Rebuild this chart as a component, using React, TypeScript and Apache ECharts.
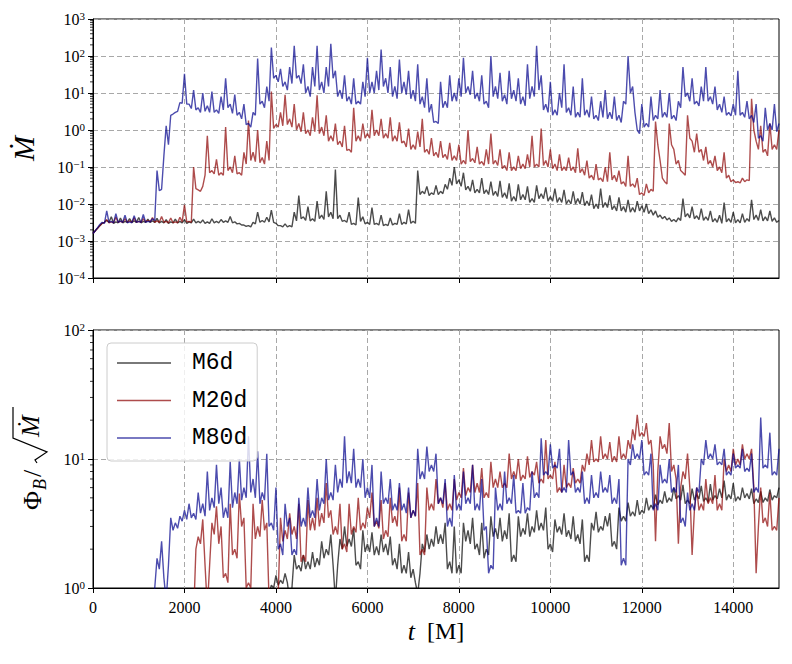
import React, { useEffect, useRef } from "react";
import * as echarts from "echarts";

// time sampling [M]: values are read at t = 0,100,...,15000 and at the midpoints t = 50,150,...,14950
const TIME_MAIN: number[] = Array.from({ length: 151 }, (_, i) => i * 100);
const TIME_MID: number[] = Array.from({ length: 150 }, (_, i) => i * 100 + 50);
const X_TICKS = [0, 2000, 4000, 6000, 8000, 10000, 12000, 14000];
const SERIES_NAMES = ["M6d", "M20d", "M80d"];

// ---------- Top panel: accretion rate Mdot ----------
const MDOT_M6D = [
  1.6e-3, 2.2e-3, 3.0e-3, 3.6e-3, 4.5e-3, 3.3e-3, 4.2e-3, 3.4e-3, 4.0e-3, 3.5e-3,
  4.3e-3, 3.4e-3, 3.9e-3, 3.5e-3, 4.1e-3, 3.4e-3, 3.8e-3, 3.3e-3, 3.9e-3, 3.4e-3,
  3.8e-3, 3.3e-3, 3.9e-3, 3.4e-3, 3.7e-3, 3.3e-3, 4.0e-3, 3.4e-3, 3.8e-3, 3.5e-3,
  4.6e-3, 3.3e-3, 3.0e-3, 2.7e-3, 2.6e-3, 3.2e-3, 6.0e-3, 3.6e-3, 4.4e-3, 6.8e-3,
  3.0e-3, 2.6e-3, 2.9e-3, 2.6e-3, 6.0e-3, 1.7e-2, 4.5e-3, 8.5e-3, 4.0e-3, 1.2e-2,
  5.0e-3, 2.2e-2, 6.0e-3, 8.5e-2, 5.0e-3, 3.6e-3, 6.0e-3, 3.0e-3, 1.5e-2, 4.5e-3,
  3.2e-3, 8.0e-3, 3.0e-3, 5.0e-3, 2.8e-3, 4.2e-3, 3.0e-3, 5.5e-3, 3.2e-3, 7.0e-3,
  3.4e-3, 8.0e-2, 2.2e-2, 3.0e-2, 2.0e-2, 3.2e-2, 2.2e-2, 3.4e-2, 5.0e-2, 1.0e-1,
  4.5e-2, 7.0e-2, 3.0e-2, 4.5e-2, 2.5e-2, 5.0e-2, 2.4e-2, 4.0e-2, 2.2e-2, 4.2e-2,
  2.0e-2, 3.6e-2, 1.6e-2, 3.4e-2, 1.8e-2, 3.0e-2, 1.4e-2, 3.2e-2, 1.9e-2, 2.8e-2,
  1.6e-2, 2.6e-2, 1.5e-2, 2.4e-2, 1.3e-2, 2.2e-2, 1.4e-2, 2.1e-2, 1.2e-2, 1.8e-2,
  1.0e-2, 2.6e-2, 1.1e-2, 1.7e-2, 9.0e-3, 1.5e-2, 8.5e-3, 1.3e-2, 8.0e-3, 1.2e-2,
  9.0e-3, 1.0e-2, 7.0e-3, 6.5e-3, 5.0e-3, 4.6e-3, 4.2e-3, 3.8e-3, 4.2e-3, 1.4e-2,
  5.5e-3, 8.5e-3, 4.8e-3, 7.5e-3, 4.5e-3, 6.5e-3, 4.0e-3, 5.0e-3, 1.1e-2, 4.0e-3,
  6.0e-3, 3.8e-3, 5.5e-3, 4.0e-3, 1.3e-2, 5.0e-3, 7.0e-3, 4.5e-3, 6.5e-3, 4.2e-3,
  3.6e-3,
];
const MDOT_M6D_MID = [
  1.9e-3, 2.6e-3, 3.2e-3, 3.2e-3, 3.0e-3, 3.1e-3, 3.1e-3, 3.2e-3, 3.2e-3, 3.2e-3,
  3.1e-3, 3.2e-3, 3.2e-3, 3.2e-3, 3.1e-3, 3.1e-3, 3.0e-3, 3.1e-3, 3.1e-3, 3.1e-3,
  3.0e-3, 3.1e-3, 3.1e-3, 3.1e-3, 3.0e-3, 3.0e-3, 3.1e-3, 3.1e-3, 3.2e-3, 3.2e-3,
  3.1e-3, 2.9e-3, 2.7e-3, 2.5e-3, 2.4e-3, 2.9e-3, 3.2e-3, 3.2e-3, 3.3e-3, 3.2e-3,
  2.6e-3, 2.4e-3, 2.4e-3, 2.4e-3, 3.5e-3, 4.0e-3, 3.6e-3, 3.5e-3, 3.4e-3, 4.0e-3,
  3.8e-3, 4.5e-3, 4.0e-3, 4.0e-3, 3.4e-3, 3.2e-3, 2.8e-3, 2.7e-3, 3.4e-3, 2.9e-3,
  2.8e-3, 2.8e-3, 2.7e-3, 2.6e-3, 2.6e-3, 2.7e-3, 2.8e-3, 2.8e-3, 2.9e-3, 3.0e-3,
  3.0e-3, 1.8e-2, 1.9e-2, 1.7e-2, 1.8e-2, 1.8e-2, 1.9e-2, 2.5e-2, 3.2e-2, 3.5e-2,
  3.0e-2, 2.4e-2, 2.2e-2, 2.0e-2, 2.0e-2, 1.9e-2, 1.8e-2, 1.7e-2, 1.6e-2, 1.5e-2,
  1.4e-2, 1.2e-2, 1.2e-2, 1.3e-2, 1.3e-2, 1.1e-2, 1.1e-2, 1.4e-2, 1.4e-2, 1.2e-2,
  1.2e-2, 1.1e-2, 1.1e-2, 1.0e-2, 1.0e-2, 1.0e-2, 1.0e-2, 9.0e-3, 9.0e-3, 7.5e-3,
  7.5e-3, 8.0e-3, 8.0e-3, 7.0e-3, 6.5e-3, 6.5e-3, 6.0e-3, 6.0e-3, 6.0e-3, 6.5e-3,
  6.0e-3, 5.5e-3, 5.0e-3, 4.4e-3, 4.0e-3, 3.7e-3, 3.4e-3, 3.3e-3, 3.6e-3, 4.5e-3,
  4.2e-3, 4.0e-3, 3.8e-3, 3.6e-3, 3.6e-3, 3.3e-3, 3.2e-3, 3.0e-3, 3.3e-3, 3.2e-3,
  3.1e-3, 3.1e-3, 3.2e-3, 3.4e-3, 3.8e-3, 3.6e-3, 3.5e-3, 3.5e-3, 3.4e-3, 3.2e-3,
];
const MDOT_M20D = [
  1.6e-3, 2.2e-3, 3.0e-3, 3.8e-3, 3.3e-3, 4.4e-3, 3.4e-3, 4.0e-3, 3.5e-3, 4.2e-3,
  3.4e-3, 4.0e-3, 3.6e-3, 4.3e-3, 3.5e-3, 4.6e-3, 3.4e-3, 4.2e-3, 3.3e-3, 4.4e-3,
  9.5e-3, 3.4e-3, 1.0e-1, 2.4e-2, 3.0e-2, 0.7, 8.0e-2, 0.16, 7.0e-2, 1.2,
  0.1, 0.2, 7.0e-2, 0.25, 1.8, 0.25, 1.0, 0.18, 0.5, 11,
  1.4, 3.0, 9.0, 2.0, 5.0, 1.5, 3.0, 1.0, 2.2, 8.7,
  1.2, 2.5, 0.7, 1.5, 0.5, 1.3, 0.3, 4.0, 0.7, 1.5,
  0.8, 3.5, 1.0, 2.0, 0.8, 2.2, 0.7, 1.6, 0.5, 1.1,
  0.4, 0.9, 2.0, 0.3, 0.6, 0.25, 0.5, 0.22, 0.45, 0.2,
  0.4, 0.15, 1.0, 0.17, 0.35, 0.14, 0.3, 0.8, 0.15, 0.3,
  0.11, 0.25, 0.1, 0.2, 0.12, 0.22, 0.7, 0.12, 1.1, 0.15,
  0.3, 0.12, 0.22, 0.1, 0.18, 0.1, 0.32, 0.09, 0.15, 0.06,
  0.12, 0.05, 0.1, 0.25, 0.06, 0.08, 0.04, 0.2, 0.035, 0.05,
  0.02, 0.035, 0.025, 1.7, 0.15, 0.04, 1.5, 0.3, 0.15, 0.07,
  2.5, 0.5, 0.8, 0.3, 0.35, 0.15, 0.2, 0.1, 0.25, 0.06,
  0.045, 0.04, 0.05, 0.045, 7.0, 0.5, 1.3, 0.3, 1.5, 0.4,
  1.0,
];
const MDOT_M20D_MID = [
  1.9e-3, 2.6e-3, 3.2e-3, 3.1e-3, 3.1e-3, 3.2e-3, 3.2e-3, 3.2e-3, 3.2e-3, 3.2e-3,
  3.2e-3, 3.3e-3, 3.3e-3, 3.2e-3, 3.2e-3, 3.2e-3, 3.1e-3, 3.1e-3, 3.1e-3, 3.3e-3,
  3.3e-3, 3.2e-3, 2.6e-2, 2.2e-2, 6.0e-2, 7.0e-2, 6.5e-2, 6.0e-2, 6.0e-2, 8.0e-2,
  7.0e-2, 6.5e-2, 6.0e-2, 0.12, 0.15, 0.14, 0.13, 0.12, 0.15, 1.1,
  1.2, 1.3, 1.4, 1.2, 1.0, 0.9, 0.8, 0.7, 0.9, 0.8,
  0.7, 0.5, 0.5, 0.4, 0.35, 0.28, 0.25, 0.5, 0.5, 0.6,
  0.6, 0.7, 0.7, 0.6, 0.6, 0.5, 0.5, 0.45, 0.35, 0.3,
  0.3, 0.35, 0.25, 0.22, 0.2, 0.18, 0.18, 0.16, 0.15, 0.15,
  0.12, 0.12, 0.14, 0.13, 0.12, 0.11, 0.12, 0.12, 0.11, 0.09,
  0.08, 0.08, 0.08, 0.09, 0.09, 0.1, 0.1, 0.1, 0.11, 0.1,
  0.09, 0.08, 0.08, 0.08, 0.08, 0.07, 0.07, 0.06, 0.05, 0.045,
  0.045, 0.04, 0.04, 0.045, 0.04, 0.035, 0.03, 0.03, 0.028, 0.018,
  0.017, 0.02, 0.022, 0.4, 0.05, 0.035, 0.4, 0.12, 0.08, 0.06,
  0.6, 0.25, 0.25, 0.15, 0.12, 0.1, 0.08, 0.07, 0.05, 0.04,
  0.038, 0.037, 0.04, 0.043, 1.0, 0.3, 0.25, 0.2, 0.3, 0.3,
];
const MDOT_M80D = [
  1.6e-3, 2.3e-3, 3.2e-3, 6.5e-3, 3.4e-3, 5.5e-3, 3.5e-3, 5.0e-3, 3.3e-3, 4.8e-3,
  3.4e-3, 5.2e-3, 3.4e-3, 4.0e-3, 8.0e-2, 2.5e-2, 1.3, 2.5, 3.0, 5.5,
  33, 5, 12, 4, 10, 4.5, 11, 3.5, 8, 25,
  5, 9, 3, 5, 1.5, 3, 85, 6, 15, 170,
  30, 45, 20, 50, 190, 30, 60, 15, 50, 190,
  20, 50, 215, 40, 12, 30, 8, 25, 6, 20,
  90, 20, 40, 150, 25, 50, 15, 80, 20, 40,
  12, 60, 8, 25, 5, 1.7, 20, 6, 30, 10,
  25, 90, 15, 40, 10, 30, 6, 100, 15, 35,
  9, 40, 12, 25, 8, 60, 15, 190, 30, 5,
  20, 3.5, 10, 60, 4, 15, 3, 25, 3.5, 8,
  2.5, 6, 12, 3, 8, 2.5, 6, 100, 15, 1.0,
  5, 1.5, 8, 2.5, 12, 3, 10, 2.5, 6, 50,
  10, 25, 6, 15, 50, 8, 15, 5, 8, 3,
  5, 40, 3, 6, 2.5, 5, 0.7, 4, 1.5, 5,
  1.5,
];
const MDOT_M80D_MID = [
  1.9e-3, 2.8e-3, 3.0e-3, 3.2e-3, 3.1e-3, 3.2e-3, 3.2e-3, 3.1e-3, 3.1e-3, 3.2e-3,
  3.2e-3, 3.2e-3, 3.3e-3, 3.6e-3, 2.3e-2, 0.2, 0.4, 2.7, 3.2, 5.3,
  5.0, 3.8, 3.5, 3.0, 3.2, 3.0, 3.0, 2.8, 3.5, 4.0,
  2.8, 2.5, 2.0, 1.4, 1.2, 2.5, 5, 4, 6, 25,
  20, 15, 12, 18, 25, 18, 10, 8, 15, 12,
  10, 15, 25, 8, 7, 6, 5, 5, 5, 8,
  10, 10, 12, 15, 10, 8, 7, 10, 9, 7,
  6, 5, 4, 3, 1.6, 1.5, 4, 4, 6, 6,
  8, 10, 9, 7, 6, 5, 4, 8, 7, 6,
  5, 7, 6, 5, 4.5, 7, 8, 12, 3.5, 3,
  2.5, 2.5, 4, 3, 2.5, 2.2, 2.2, 2.5, 2.2, 2.0,
  1.8, 2.2, 2.0, 2.0, 1.8, 1.6, 5, 10, 3, 0.8,
  1.2, 1.2, 1.8, 2.0, 2.2, 2.2, 2.0, 1.8, 4, 8,
  6, 5, 4.5, 6, 6, 5, 3.5, 3, 2.5, 2.4,
  2.5, 2.5, 2.2, 2.0, 1.6, 0.6, 0.5, 1.0, 1.0, 0.9,
];

// ---------- Bottom panel: Phi_B / sqrt(Mdot) ----------
const PHI_M6D = [
  null, null, null, null, null, null, null, null, null, null,
  null, null, null, null, null, null, null, null, null, null,
  null, null, null, null, null, null, null, null, null, null,
  null, null, null, null, null, null, null, null, 0.7, 1.05,
  1.25, 1.15, 1.3, 0.8, 1.8, 1.5, 1.8, 1.6, 1.9, 1.7,
  2.3, 2.0, 2.6, 0.8, 2.4, 3.0, 2.4, 2.9, 1.6, 2.8,
  2.2, 2.7, 2.1, 2.6, 2.2, 2.5, 1.7, 2.2, 1.5, 1.9,
  1.4, 0.9, 2.2, 2.6, 2.4, 3.0, 2.6, 3.2, 1.6, 3.0,
  1.5, 3.2, 2.8, 3.5, 2.2, 3.2, 2.0, 3.6, 2.9, 3.5,
  2.8, 3.8, 1.8, 3.6, 2.9, 3.8, 3.0, 4.0, 3.2, 4.2,
  2.2, 3.4, 3.0, 3.8, 2.8, 3.6, 2.6, 3.4, 1.8, 3.2,
  3.9, 3.0, 3.6, 3.8, 2.3, 4.2, 3.6, 4.6, 3.9, 4.8,
  4.0, 5.0, 4.4, 5.3, 4.8, 5.6, 5.0, 6.0, 5.2, 6.3,
  4.8, 5.9, 5.3, 6.2, 5.0, 6.4, 5.2, 5.9, 6.8, 5.3,
  6.5, 5.1, 6.0, 5.4, 5.9, 4.9, 5.6, 5.0, 5.8, 5.2,
  6.0,
];
const PHI_M6D_MID = [
  null, null, null, null, null, null, null, null, null, null,
  null, null, null, null, null, null, null, null, null, null,
  null, null, null, null, null, null, null, null, null, null,
  null, null, null, null, null, null, null, null, 0.9, 1.0,
  1.05, 1.08, 1.1, 1.0, 1.4, 1.35, 1.4, 1.4, 1.45, 1.5,
  1.7, 1.8, 1.5, 1.5, 2.0, 2.1, 2.1, 1.5, 1.4, 1.9,
  1.9, 1.8, 1.8, 1.9, 1.8, 1.5, 1.4, 1.3, 1.3, 1.2,
  1.1, 1.3, 1.9, 2.0, 2.1, 2.2, 2.2, 1.4, 1.3, 1.3,
  1.3, 2.3, 2.2, 2.0, 1.8, 1.7, 1.8, 2.5, 2.4, 2.3,
  2.4, 1.6, 1.6, 2.5, 2.6, 2.5, 2.7, 2.8, 2.8, 2.0,
  1.9, 2.7, 2.6, 2.5, 2.4, 2.3, 2.2, 1.6, 1.6, 2.8,
  2.7, 2.8, 3.0, 2.1, 2.0, 3.3, 3.3, 3.6, 3.6, 3.7,
  3.8, 4.0, 4.1, 4.4, 4.5, 4.6, 4.7, 4.9, 4.8, 4.5,
  4.5, 4.8, 4.9, 4.7, 4.6, 4.8, 4.9, 5.0, 4.8, 4.9,
  4.7, 4.8, 5.0, 4.9, 4.5, 4.6, 4.6, 4.7, 4.8, 5.0,
];
const PHI_M20D = [
  null, null, null, null, null, null, null, null, null, null,
  null, null, null, null, null, null, null, null, null, null,
  null, null, 0.6, 2.5, 3.4, 0.7, 3.2, 4.3, 3.0, 1.3,
  4.5, 2.0, 5.4, 3.5, 1.1, 4.5, 3.0, 4.8, 3.2, 0.9,
  0.6, 3.5, 2.8, 3.8, 3.0, 4.5, 1.8, 4.8, 3.5, 5.0,
  3.8, 6.5, 4.0, 3.0, 4.5, 2.2, 4.5, 3.0, 5.0, 3.2,
  4.2, 5.5, 3.3, 4.8, 2.8, 5.0, 3.6, 6.0, 2.6, 5.5,
  4.0, 6.5, 2.0, 6.0, 4.5, 7.0, 5.0, 6.5, 4.5, 7.0,
  5.5, 8.5, 6.0, 9.0, 6.5, 8.5, 5.5, 9.5, 7.0, 8.0,
  6.5, 11, 8.0, 10, 7.5, 10.5, 8.0, 9.5, 7.0, 14,
  7.5, 9.5, 6.0, 9.0, 6.5, 8.5, 7.0, 9.0, 11, 14,
  10, 15, 11, 13.5, 10.5, 15, 11, 14, 17, 22,
  16, 19, 14, 2.3, 15, 13, 19, 9.0, 2.2, 8.0,
  11, 1.8, 6.0, 4.5, 7.0, 5.0, 7.5, 4.5, 10, 9.0,
  12, 10, 13, 11, 12, 1.3, 6.0, 3.5, 5.5, 3.0,
  5.0,
];
const PHI_M20D_MID = [
  null, null, null, null, null, null, null, null, null, null,
  null, null, null, null, null, null, null, null, null, null,
  null, null, 2.0, 2.2, 1.5, 1.5, 2.6, 2.2, 1.2, 1.1,
  1.8, 1.7, 3.0, 1.0, 1.0, 2.4, 2.5, 2.8, 0.8, 0.5,
  0.9, 2.3, 2.4, 2.6, 2.4, 1.6, 1.6, 2.8, 2.8, 3.0,
  3.2, 3.5, 2.6, 2.6, 2.0, 1.9, 2.6, 2.7, 2.8, 2.9,
  3.5, 3.0, 2.9, 2.4, 2.5, 3.2, 3.0, 2.3, 2.3, 3.5,
  3.6, 1.8, 1.8, 4.0, 4.0, 4.5, 4.2, 4.0, 4.0, 4.8,
  5.0, 5.2, 5.5, 5.5, 5.5, 5.0, 5.0, 6.0, 6.0, 6.0,
  6.0, 7.0, 7.0, 6.8, 7.0, 7.2, 7.5, 6.5, 6.5, 7.0,
  7.0, 5.5, 5.5, 6.0, 6.0, 6.5, 6.5, 8.0, 9.0, 9.5,
  9.5, 10, 10, 9.5, 9.5, 10, 10, 12, 14, 15,
  15, 13, 9.0, 8.0, 12, 11, 8.0, 7.0, 6.0, 7.0,
  6.0, 4.0, 4.0, 4.0, 4.5, 4.5, 4.0, 4.0, 8.0, 8.0,
  9.0, 9.0, 10, 10, 6.0, 3.0, 3.2, 3.0, 2.8, 2.8,
];
const PHI_M80D = [
  null, null, null, null, null, null, null, null, null, null,
  null, null, null, 0.6, 1.7, 2.3, 0.8, 3.5, 3.2, 3.6,
  4.0, 4.5, 3.8, 5.5, 4.5, 8.0, 5.0, 9.0, 6.0, 4.2,
  9.5, 5.5, 10, 6.0, 15, 7.0, 11.5, 5.5, 11, 3.2,
  6.0, 2.2, 4.5, 3.5, 2.0, 5.0, 3.5, 6.0, 4.0, 7.0,
  5.0, 10, 5.5, 9.0, 7.0, 15, 8.0, 12, 7.0, 10,
  6.0, 9.0, 3.5, 8.0, 5.0, 7.0, 4.5, 6.5, 4.5, 6.0,
  4.0, 12, 8.0, 12.5, 9.0, 11, 5.0, 7.0, 3.5, 7.5,
  4.5, 8.0, 5.0, 9.0, 4.5, 7.0, 3.0, 1.5, 6.0, 4.5,
  8.0, 5.0, 7.5, 4.0, 6.5, 4.2, 8.0, 5.5, 14.5, 8.0,
  13, 9.0, 12, 6.0, 14, 8.0, 6.0, 8.0, 5.0, 7.5,
  5.5, 8.0, 6.0, 7.5, 5.0, 7.0, 1.7, 10, 13, 11,
  14, 8.0, 11, 4.5, 9.0, 7.0, 10, 6.0, 9.0, 3.5,
  5.5, 4.5, 6.0, 10, 14, 11, 13, 9.5, 12, 8.0,
  11, 9.0, 12, 8.5, 11, 6.0, 21, 9.0, 16, 8.0,
  12,
];
const PHI_M80D_MID = [
  null, null, null, null, null, null, null, null, null, null,
  null, null, null, 1.0, 1.4, 1.2, 1.5, 2.8, 2.9, 3.3,
  3.4, 3.5, 3.4, 3.8, 3.6, 4.0, 4.2, 4.5, 3.5, 3.5,
  4.2, 4.5, 4.8, 5.0, 5.5, 5.0, 4.5, 4.8, 3.0, 2.8,
  2.0, 1.8, 3.0, 1.8, 1.8, 3.0, 3.0, 3.5, 3.5, 4.0,
  4.5, 4.8, 4.8, 5.5, 6.0, 6.5, 6.5, 6.0, 6.0, 5.0,
  5.0, 3.0, 3.0, 4.5, 4.5, 4.0, 4.0, 4.0, 3.8, 3.5,
  3.6, 7.0, 7.0, 8.0, 8.0, 4.5, 4.5, 3.0, 3.0, 4.0,
  4.0, 4.5, 4.5, 4.0, 4.0, 2.8, 1.3, 1.4, 4.0, 4.0,
  4.5, 4.5, 3.8, 3.8, 3.8, 4.0, 5.0, 5.0, 7.5, 7.5,
  8.5, 8.5, 5.5, 5.5, 7.5, 5.5, 5.5, 4.5, 4.5, 5.0,
  5.0, 5.5, 5.5, 4.5, 4.5, 1.5, 1.5, 9.0, 10, 10,
  7.5, 7.5, 4.0, 4.0, 6.5, 6.5, 5.5, 5.5, 3.2, 3.0,
  4.0, 4.0, 5.5, 9.0, 10, 10, 9.0, 9.0, 7.5, 7.5,
  8.5, 8.5, 8.0, 8.0, 5.5, 5.5, 8.5, 8.5, 7.5, 7.5,
];

const COLORS: Record<string, string> = {
  M6d: "rgba(0,0,0,0.7)",
  M20d: "rgba(139,0,0,0.7)",
  M80d: "rgba(0,0,139,0.7)",
};

const SERIF = "'Liberation Serif', 'DejaVu Serif', serif";
const MONO = "'Liberation Mono', 'DejaVu Sans Mono', monospace";

const powLabel = (v: number) => {
  const e = Math.round(Math.log10(v));
  const s = e < 0 ? "\u2212" + String(-e) : String(e);
  return `{b|10}{s|${s}}`;
};
const powRich = {
  b: { fontFamily: SERIF, fontSize: 16, color: "#000", verticalAlign: "middle" },
  s: { fontFamily: SERIF, fontSize: 11, color: "#000", verticalAlign: "middle", padding: [0, 0, 7, 0] },
};

const minorValues = (e0: number, e1: number) => {
  const out: number[] = [];
  for (let e = e0; e < e1; e++) for (let k = 2; k <= 9; k++) out.push(k * Math.pow(10, e));
  return out;
};

// merge the readings at t = 0,100,... with those at t = 50,150,...
const mergeSeries = (main: (number | null)[], mid: (number | null)[]) => {
  const out: [number, number | null][] = [];
  TIME_MAIN.forEach((t, i) => {
    out.push([t, main[i]]);
    if (i < TIME_MID.length) out.push([TIME_MID[i], mid[i]]);
  });
  return out;
};

const splitStyle = { show: true, lineStyle: { color: "#a8a8a8", width: 1, type: [5, 3] } };

export default function App() {
  const ref = useRef<HTMLDivElement>(null);
  useEffect(() => {
    document.body.style.margin = "0";
    const chart = echarts.init(ref.current as HTMLDivElement, null, { renderer: "svg" });

    const lineSeries = (name: string, main: (number | null)[], mid: (number | null)[], idx: number) => ({
      name,
      type: "line",
      xAxisIndex: idx,
      yAxisIndex: idx,
      data: mergeSeries(main, mid),
      showSymbol: false,
      symbol: "none",
      connectNulls: false,
      lineStyle: { width: 1.4, color: COLORS[name] },
      itemStyle: { color: COLORS[name] },
      emphasis: { disabled: true },
      z: 2,
    });

    const minorTicks = (vals: number[], idx: number) => ({
      type: "custom",
      xAxisIndex: idx,
      yAxisIndex: idx,
      silent: true,
      clip: false,
      z: 5,
      data: vals.map((v) => [0, v]),
      encode: { x: 0, y: 1 },
      renderItem: (_p: any, api: any) => {
        const p = api.coord([0, api.value(1)]);
        return {
          type: "line",
          shape: { x1: p[0] - 3, y1: p[1], x2: p[0], y2: p[1] },
          style: { stroke: "#000", lineWidth: 0.8 },
        };
      },
    });

    const xAxisBase = (idx: number, labels: boolean) => ({
      type: "value",
      gridIndex: idx,
      min: 0,
      max: 15000,
      interval: 2000,
      axisLine: { show: true, lineStyle: { color: "#000", width: 1 } },
      axisTick: { show: true, length: 5, customValues: X_TICKS, lineStyle: { color: "#000", width: 1 } },
      axisLabel: {
        show: labels,
        customValues: X_TICKS,
        formatter: (v: number) => String(v),
        fontFamily: SERIF,
        fontSize: 16,
        color: "#000",
        margin: 11,
      },
      splitLine: splitStyle,
    });

    const yAxisBase = (idx: number, min: number, max: number, split: number) => ({
      type: "log",
      logBase: 10,
      gridIndex: idx,
      min,
      max,
      splitNumber: split,
      axisLine: { show: true, lineStyle: { color: "#000", width: 1 } },
      axisTick: { show: true, length: 5, lineStyle: { color: "#000", width: 1 } },
      axisLabel: { formatter: powLabel, rich: powRich, margin: 8, color: "#000" },
      splitLine: splitStyle,
    });

    chart.setOption({
      animation: false,
      grid: [
        { left: 93, top: 19, width: 686, height: 259, show: true, borderColor: "#000", borderWidth: 1 },
        { left: 93, top: 330, width: 686, height: 258, show: true, borderColor: "#000", borderWidth: 1 },
      ],
      xAxis: [
        xAxisBase(0, false),
        {
          ...xAxisBase(1, true),
          name: "{i|t}{n|  [M]}",
          nameLocation: "middle",
          nameGap: 30,
          nameTextStyle: {
            rich: {
              i: { fontFamily: SERIF, fontStyle: "italic", fontSize: 26, color: "#000" },
              n: { fontFamily: SERIF, fontSize: 24, color: "#000" },
            },
          },
        },
      ],
      yAxis: [
        {
          ...yAxisBase(0, 1e-4, 1e3, 7),
          name: "\u1E40",
          nameLocation: "middle",
          nameGap: 55,
          nameTextStyle: { fontFamily: SERIF, fontStyle: "italic", fontSize: 30, color: "#000" },
        },
        yAxisBase(1, 1, 100, 2),
      ],
      legend: {
        data: SERIES_NAMES,
        orient: "vertical",
        left: 107,
        top: 343,
        icon: "rect",
        itemWidth: 54,
        itemHeight: 1.6,
        itemGap: 11.5,
        padding: [7, 10, 10, 10],
        backgroundColor: "rgba(255,255,255,0.8)",
        borderColor: "#cccccc",
        borderWidth: 1,
        borderRadius: 4,
        selectedMode: false,
        textStyle: { fontFamily: MONO, fontSize: 23, color: "#000", lineHeight: 26, padding: [0, 0, 0, 16] },
      },
      graphic: [
        {
          type: "group",
          x: 30,
          y: 459,
          rotation: Math.PI / 2,
          silent: true,
          children: [
            {
              type: "text",
              x: -51,
              y: 2,
              style: { text: "\u03A6", fontFamily: SERIF, fontSize: 26, fill: "#000", align: "left", verticalAlign: "middle", textAlign: "left", textVerticalAlign: "middle" },
            },
            {
              type: "text",
              x: -31,
              y: 10,
              style: { text: "B", fontFamily: SERIF, fontStyle: "italic", fontSize: 18, fill: "#000", align: "left", verticalAlign: "middle", textAlign: "left", textVerticalAlign: "middle" },
            },
            {
              type: "text",
              x: -18,
              y: 2,
              style: { text: "/", fontFamily: SERIF, fontSize: 26, fill: "#000", align: "left", verticalAlign: "middle", textAlign: "left", textVerticalAlign: "middle" },
            },
            {
              type: "polyline",
              shape: { points: [[-4, 7], [-1, 5], [7, 17], [21, -17], [52, -17]] },
              style: { stroke: "#000", lineWidth: 1.2, fill: null },
            },
            {
              type: "text",
              x: 22,
              y: 0,
              style: { text: "\u1E40", fontFamily: SERIF, fontStyle: "italic", fontSize: 26, fill: "#000", align: "left", verticalAlign: "middle", textAlign: "left", textVerticalAlign: "middle" },
            },
          ],
        },
      ],
      series: [
        lineSeries("M6d", MDOT_M6D, MDOT_M6D_MID, 0),
        lineSeries("M20d", MDOT_M20D, MDOT_M20D_MID, 0),
        lineSeries("M80d", MDOT_M80D, MDOT_M80D_MID, 0),
        lineSeries("M6d", PHI_M6D, PHI_M6D_MID, 1),
        lineSeries("M20d", PHI_M20D, PHI_M20D_MID, 1),
        lineSeries("M80d", PHI_M80D, PHI_M80D_MID, 1),
        minorTicks(minorValues(-4, 3), 0),
        minorTicks(minorValues(0, 2), 1),
      ],
    });
    return () => chart.dispose();
  }, []);
  return <div ref={ref} style={{ width: 792, height: 664 }} />;
}
